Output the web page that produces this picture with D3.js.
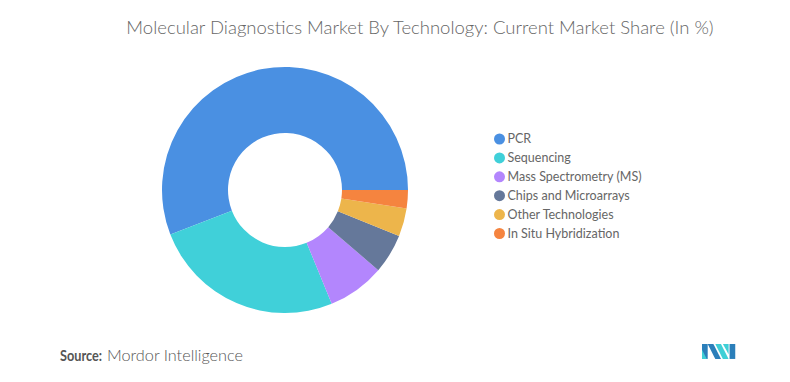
<!DOCTYPE html>
<html><head><meta charset="utf-8">
<script src="https://cdn.jsdelivr.net/npm/d3@7"></script>
<style>body{margin:0;background:#fff}svg{display:block}</style>
</head><body>
<svg id="c" width="790" height="382"></svg>
<script>
const categories = ["PCR","Sequencing","Mass Spectrometry (MS)","Chips and Microarrays","Other Technologies","In Situ Hybridization"];
const values = [55.9, 25.3, 7.5, 5.2, 3.7, 2.4];
const colors = ["#4a90e2","#40d0d9","#b386fd","#65789a","#edb54b","#f5843f"];
const title = "Molecular Diagnostics Market By Technology: Current Market Share (In %)";

const svg = d3.select("#c");
const font = "Lato, 'Open Sans', sans-serif";

svg.append("text").attr("x", 420).attr("y", 34).attr("text-anchor","middle")
  .attr("font-family", font).attr("font-size", 18.5).attr("font-weight", 300).attr("fill","#666")
  .text(title);

const cx = 285, cy = 190, rO = 123, rI = 57;
const color = d3.scaleOrdinal().domain(categories).range(colors);
const pie = d3.pie().sort(null).value(d => d.v).startAngle(Math.PI/2).endAngle(Math.PI/2 - 2*Math.PI);
const data = categories.map((c,i)=>({c, v: values[i]}));
const arc = d3.arc().innerRadius(rI).outerRadius(rO);
svg.append("g").attr("transform", `translate(${cx},${cy})`)
  .selectAll("path").data(pie(data)).join("path")
  .attr("d", arc).attr("fill", d => color(d.data.c));

const ly = d3.scalePoint().domain(categories).range([139, 233.5]);
const items = svg.append("g").selectAll("g").data(categories).join("g")
  .attr("transform", d => `translate(499.5,${ly(d)})`);
items.append("circle").attr("r", 5.5).attr("fill", d => color(d));
items.append("text").attr("x", 8).attr("dy", "0.35em")
  .attr("font-family", font).attr("font-size", 12.5).attr("fill", "#666").text(d => d);

svg.append("text").attr("x", 60).attr("y", 361)
  .attr("font-family", font).attr("font-size", 15).attr("font-weight", 700).attr("fill","#555")
  .attr("textLength", 42).attr("lengthAdjust","spacingAndGlyphs").text("Source:");
svg.append("text").attr("x", 107).attr("y", 361)
  .attr("font-family", font).attr("font-size", 16).attr("font-weight", 300).attr("fill","#555")
  .attr("textLength", 136).attr("lengthAdjust","spacingAndGlyphs").text("Mordor Intelligence");

const logo = svg.append("g").attr("transform","translate(702,344) scale(0.95,1.15)");
logo.append("polygon").attr("points","0,0 6,0 6,13 0,13").attr("fill","#2b7fba");
logo.append("polygon").attr("points","6,0 12,0 20,13 14,13").attr("fill","#2b7fba");
logo.append("polygon").attr("points","0,5 5,13 0,13").attr("fill","#3fcfd6");
logo.append("polygon").attr("points","14,0 20,0 28,13 22,13").attr("fill","#3fcfd6");
logo.append("polygon").attr("points","22,0 28,0 28,9").attr("fill","#3fcfd6");
logo.append("polygon").attr("points","29,0 35,0 35,13 29,13").attr("fill","#2b7fba");
</script>
</body></html>
